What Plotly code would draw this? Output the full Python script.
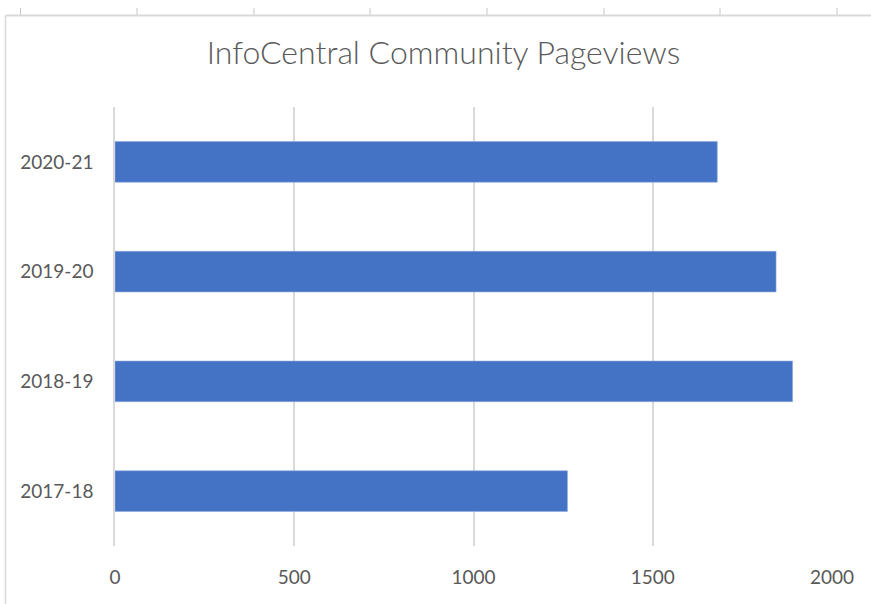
import plotly.graph_objects as go

categories = ["2017-18", "2018-19", "2019-20", "2020-21"]
pageviews = [1262, 1890, 1844, 1680]
x_ticks = [0, 500, 1000, 1500, 2000]
title_text = "InfoCentral Community Pageviews"

W, H = 871, 604
L, R, T, B = 115, 39, 107, 58
pw = W - L - R
ph = H - T - B

def px_x(p):
    return (p - L) / pw

def px_y(p):
    return (H - B - p) / ph

fig = go.Figure(go.Bar(
    x=pageviews, y=categories, orientation="h",
    marker=dict(color="#4472C4", line=dict(color="#8FAADC", width=0.6)),
))

shapes = []
# chart border (left and top)
shapes.append(dict(type="line", xref="paper", yref="paper",
                   x0=px_x(5.5), x1=px_x(871), y0=px_y(15.5), y1=px_y(15.5),
                   line=dict(color="#D9D9D9", width=2)))
shapes.append(dict(type="line", xref="paper", yref="paper",
                   x0=px_x(5.5), x1=px_x(5.5), y0=px_y(15.5), y1=px_y(604),
                   line=dict(color="#D9D9D9", width=1.5)))
# ruler tick marks at the top
for tx in [20.5, 137, 254, 370, 487, 604, 720, 837]:
    shapes.append(dict(type="line", xref="paper", yref="paper",
                       x0=px_x(tx), x1=px_x(tx), y0=px_y(8), y1=px_y(15),
                       line=dict(color="#C8C8C8", width=1)))

fig.update_layout(
    width=W, height=H,
    margin=dict(l=L, r=R, t=T, b=B),
    paper_bgcolor="white", plot_bgcolor="white",
    showlegend=False,
    bargap=0.63,
    title=dict(text=title_text, x=px_x(443.5), xanchor="center", xref="paper",
               y=1 - 53 / H, yanchor="middle",
               font=dict(family="Lato", size=32, color="#595959", weight=300)),
    xaxis=dict(range=[0, 2000], tickvals=x_ticks, showgrid=True,
               gridcolor="#D9D9D9", gridwidth=1.5, zeroline=False,
               showline=False, ticks="outside", ticklen=14, tickcolor="rgba(0,0,0,0)",
               tickfont=dict(family="Lato", size=19, color="#595959")),
    yaxis=dict(showgrid=False, zeroline=False, showline=True,
               linecolor="#D9D9D9", linewidth=1.5,
               ticks="outside", ticklen=16, tickcolor="rgba(0,0,0,0)",
               tickfont=dict(family="Lato", size=19, color="#595959")),
    shapes=shapes,
)

fig.write_html(
    "out.html",
    config={"displayModeBar": False},
    post_script="document.body.style.margin='0';document.body.style.overflow='hidden';",
)
